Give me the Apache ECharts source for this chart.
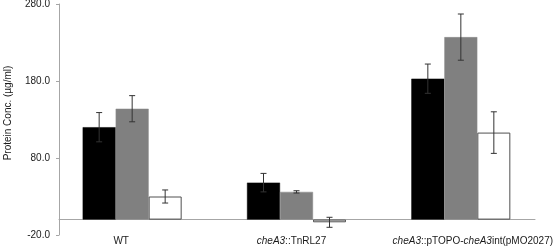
<!DOCTYPE html>
<html>
<head>
<meta charset="utf-8">
<script src="https://cdn.jsdelivr.net/npm/echarts@6/dist/echarts.min.js"></script>
<style>
html,body{margin:0;padding:0;background:#fff;}
#c{width:554px;height:249px;}
</style>
</head>
<body>
<div id="c"></div>
<script>
var categories = ['WT', 'cheA3::TnRL27', 'cheA3::pTOPO-cheA3int(pMO2027)'];
var blackVals = [120, 48, 183];
var blackErr = [19, 12, 19];
var grayVals = [144, 36, 237];
var grayErr = [17, 1.5, 30];
var whiteVals = [30, -3.5, 113];
var whiteErr = [8.5, 6.5, 27];
var yTicks = { min: -20, max: 280, interval: 100 };

var BAR_W = 33;
var FONT = '"Liberation Sans", Arial, sans-serif';
var AXIS_COLOR = '#a6a6a6';

function errSeries(vals, errs, idx) {
  var data = vals.map(function (v, i) { return [i, v, errs[i]]; });
  return {
    type: 'custom',
    xAxisIndex: 0, yAxisIndex: 0,
    z: 10,
    renderItem: function (params, api) {
      var c = api.value(0), v = api.value(1), e = api.value(2);
      var top = api.coord([c, v + e]);
      var bot = api.coord([c, v - e]);
      var x = top[0] + (idx - 1) * BAR_W;
      var cap = 3;
      var st = { stroke: '#333333', lineWidth: 1 };
      return {
        type: 'group',
        children: [
          { type: 'line', shape: { x1: x, y1: top[1], x2: x, y2: bot[1] }, style: st },
          { type: 'line', shape: { x1: x - cap, y1: top[1], x2: x + cap, y2: top[1] }, style: st },
          { type: 'line', shape: { x1: x - cap, y1: bot[1], x2: x + cap, y2: bot[1] }, style: st }
        ]
      };
    },
    data: data
  };
}

var chart = echarts.init(document.getElementById('c'), null, { renderer: 'canvas' });
var labelRich = {
  wt: { fontFamily: FONT, fontSize: 10, color: '#1a1a1a', padding: [0, 22, 0, 0] },
  i2: { fontFamily: FONT, fontSize: 10, color: '#1a1a1a', fontStyle: 'italic' },
  n2: { fontFamily: FONT, fontSize: 10, color: '#1a1a1a', padding: [0, 10, 0, 0] },
  i3: { fontFamily: FONT, fontSize: 10, color: '#1a1a1a', fontStyle: 'italic', padding: [0, 0, 0, 24] },
  i: { fontFamily: FONT, fontSize: 10, color: '#1a1a1a', fontStyle: 'italic' },
  n: { fontFamily: FONT, fontSize: 10, color: '#1a1a1a' }
};
var option = {
  animation: false,
  backgroundColor: '#fff',
  grid: [
    { left: 50, right: 11, top: 4, bottom: 14, containLabel: false, outerBoundsMode: 'none' },
    { left: 59, right: 19, top: 4, bottom: 14, containLabel: false, outerBoundsMode: 'none' }
  ],
  xAxis: [
    {
      type: 'category', gridIndex: 0, data: categories,
      axisLine: { show: false }, axisTick: { show: false },
      axisLabel: {
        margin: 1, interval: 0,
        formatter: function (v, i) {
          if (i === 0) return '{wt|WT}';
          if (i === 1) return '{i2|cheA3}{n2|::TnRL27}';
          return '{i3|cheA3}{n|::pTOPO-}{i|cheA3}{n|int(pMO2027)}';
        },
        rich: labelRich
      }
    },
    {
      type: 'category', gridIndex: 1, data: categories,
      axisLine: { show: true, onZero: true, lineStyle: { color: AXIS_COLOR, width: 1 } },
      axisTick: { show: false }, axisLabel: { show: false }
    }
  ],
  yAxis: [
    {
      type: 'value', gridIndex: 0, min: yTicks.min, max: yTicks.max, interval: yTicks.interval,
      show: false, splitLine: { show: false }
    },
    {
      type: 'value', gridIndex: 1, min: yTicks.min, max: yTicks.max, interval: yTicks.interval,
      axisLine: { show: true, lineStyle: { color: AXIS_COLOR, width: 1 } },
      axisTick: { show: true, length: 3, lineStyle: { color: AXIS_COLOR } },
      splitLine: { show: false },
      axisLabel: {
        margin: 9, fontFamily: FONT, fontSize: 10, color: '#1a1a1a',
        formatter: function (v) { return v.toFixed(1); }
      },
      name: 'Protein Conc. (\u00b5g/ml)',
      nameLocation: 'middle',
      nameGap: 46,
      nameTextStyle: { fontFamily: FONT, fontSize: 10, color: '#1a1a1a', padding: [0, 0, 0, 13] }
    }
  ],
  series: [
    {
      name: 'Series 1', type: 'bar', xAxisIndex: 0, yAxisIndex: 0,
      data: blackVals, barWidth: BAR_W, barGap: '0%',
      itemStyle: { color: '#000000', borderColor: '#000000', borderWidth: 0.5 }
    },
    {
      name: 'Series 2', type: 'bar', xAxisIndex: 0, yAxisIndex: 0,
      data: grayVals, barWidth: BAR_W, barGap: '0%',
      itemStyle: { color: '#808080', borderColor: '#8a8a8a', borderWidth: 0.5 }
    },
    {
      name: 'Series 3', type: 'bar', xAxisIndex: 0, yAxisIndex: 0,
      data: whiteVals, barWidth: BAR_W, barGap: '0%',
      itemStyle: { color: '#ffffff', borderColor: '#505050', borderWidth: 1 }
    },
    errSeries(blackVals, blackErr, 0),
    errSeries(grayVals, grayErr, 1),
    errSeries(whiteVals, whiteErr, 2)
  ]
};
chart.setOption(option);
</script>
</body>
</html>
